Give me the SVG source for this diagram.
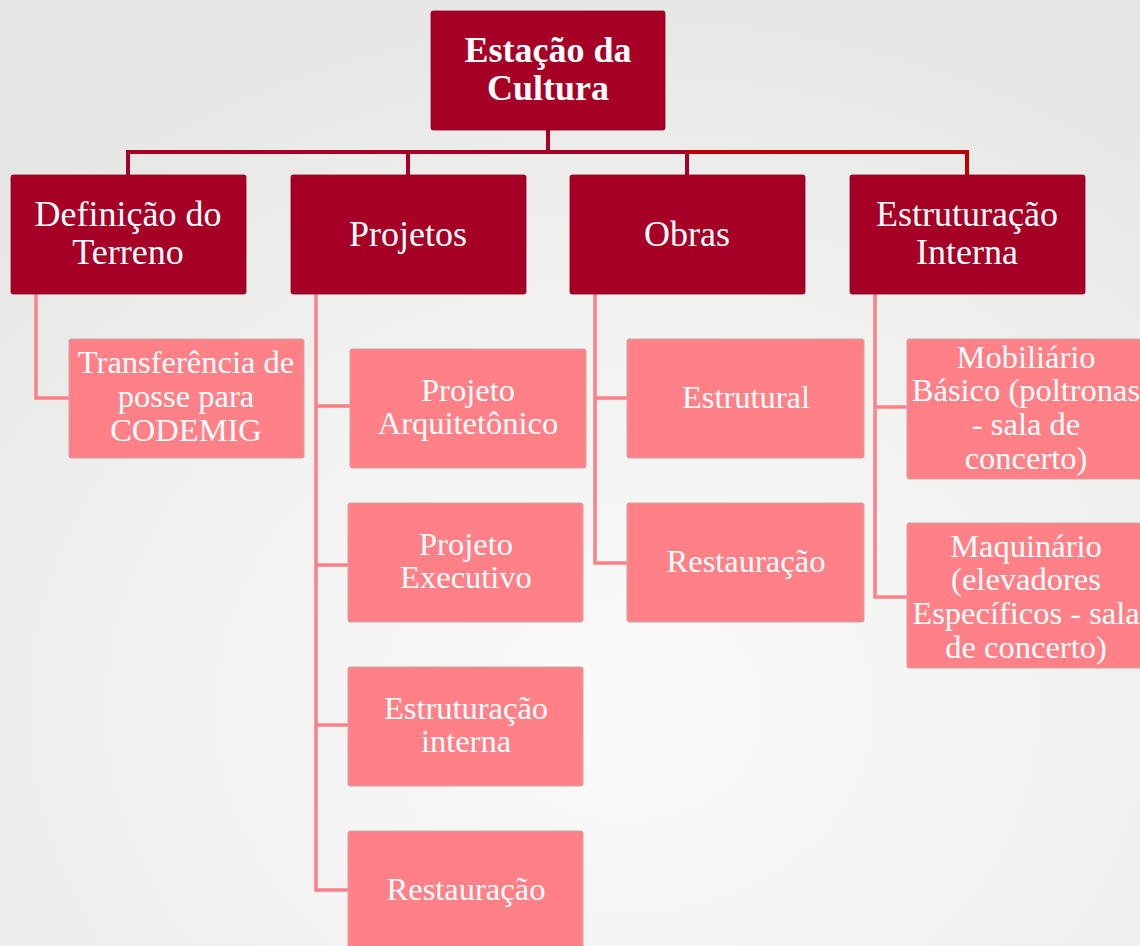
<svg xmlns="http://www.w3.org/2000/svg" width="1140" height="946" viewBox="0 0 1140 946">
<defs>
<radialGradient id="bg" cx="0.55" cy="0.75" r="0.8">
<stop offset="0" stop-color="#fafafa"/>
<stop offset="0.6" stop-color="#f0f0ef"/>
<stop offset="1" stop-color="#e5e5e3"/>
</radialGradient>
<style>
.top{fill:#a60026;stroke:#8a0020;stroke-width:0.8}
.sub{fill:#ff8086;stroke:#c9a5a5;stroke-width:1}
.t{font-family:"Liberation Serif","Times New Roman",serif;fill:#ffffff;text-anchor:middle}
.t0{font-size:36px;font-weight:bold}
.t1{font-size:36px}
.t2{font-size:32.5px}
.c1{fill:none;stroke:#a60026;stroke-width:4}
.c1r{fill:none;stroke:#c00000;stroke-width:4}
.c2{fill:none;stroke:#fb8088;stroke-width:3.5}
</style>
</defs>
<rect width="1140" height="946" fill="url(#bg)"/>
<g id="connectors">
<path class="c1" d="M548,130 V152 M128,175 V152 H687 M408,152 V175 M687,152 V175"/>
<path class="c1r" d="M687,152 H967 V175"/>
<path class="c2" d="M36,294 V398 H69"/>
<path class="c2" d="M316,294 V890 H348 M316,406 H350 M316,565 H348 M316,725 H348"/>
<path class="c2" d="M595,294 V563 H627 M595,398 H627"/>
<path class="c2" d="M875,294 V597 H907 M875,407 H907"/>
</g>
<g id="root">
<rect class="top" x="431" y="11" width="234" height="119" rx="2"/>
<text class="t t0" x="548" y="62">Estação da</text>
<text class="t t0" x="548" y="100">Cultura</text>
</g>
<g id="definicao">
<rect class="top" x="11" y="175" width="235" height="119" rx="2"/>
<text class="t t1" x="128" y="226">Definição do</text>
<text class="t t1" x="128" y="264">Terreno</text>
</g>
<g id="projetos">
<rect class="top" x="291" y="175" width="235" height="119" rx="2"/>
<text class="t t1" x="408" y="246">Projetos</text>
</g>
<g id="obras">
<rect class="top" x="570" y="175" width="235" height="119" rx="2"/>
<text class="t t1" x="687" y="246">Obras</text>
</g>
<g id="estruturacao">
<rect class="top" x="850" y="175" width="235" height="119" rx="2"/>
<text class="t t1" x="967" y="226">Estruturação</text>
<text class="t t1" x="967" y="264">Interna</text>
</g>
<g id="transferencia">
<rect class="sub" x="69" y="339" width="235" height="119" rx="2"/>
<text class="t t2" x="186" y="373">Transferência de</text>
<text class="t t2" x="186" y="407">posse para</text>
<text class="t t2" x="186" y="441">CODEMIG</text>
</g>
<g id="proj-arq">
<rect class="sub" x="350" y="349" width="236" height="119" rx="2"/>
<text class="t t2" x="468" y="401">Projeto</text>
<text class="t t2" x="468" y="434">Arquitetônico</text>
</g>
<g id="proj-exec">
<rect class="sub" x="348" y="503" width="235" height="119" rx="2"/>
<text class="t t2" x="466" y="555">Projeto</text>
<text class="t t2" x="466" y="588">Executivo</text>
</g>
<g id="proj-estr">
<rect class="sub" x="348" y="667" width="235" height="119" rx="2"/>
<text class="t t2" x="466" y="719">Estruturação</text>
<text class="t t2" x="466" y="752">interna</text>
</g>
<g id="proj-rest">
<rect class="sub" x="348" y="831" width="235" height="125" rx="2"/>
<text class="t t2" x="466" y="900">Restauração</text>
</g>
<g id="obras-estr">
<rect class="sub" x="627" y="339" width="237" height="119" rx="2"/>
<text class="t t2" x="746" y="408">Estrutural</text>
</g>
<g id="obras-rest">
<rect class="sub" x="627" y="503" width="237" height="119" rx="2"/>
<text class="t t2" x="746" y="572">Restauração</text>
</g>
<g id="mobiliario">
<rect class="sub" x="907" y="339" width="240" height="140" rx="2"/>
<text class="t t2" x="1026" y="368">Mobiliário</text>
<text class="t t2" x="1026" y="401">Básico (poltronas</text>
<text class="t t2" x="1026" y="435">- sala de</text>
<text class="t t2" x="1026" y="469">concerto)</text>
</g>
<g id="maquinario">
<rect class="sub" x="907" y="523" width="240" height="145" rx="2"/>
<text class="t t2" x="1026" y="557">Maquinário</text>
<text class="t t2" x="1026" y="590">(elevadores</text>
<text class="t t2" x="1026" y="624">Específicos - sala</text>
<text class="t t2" x="1026" y="658">de concerto)</text>
</g>
</svg>
